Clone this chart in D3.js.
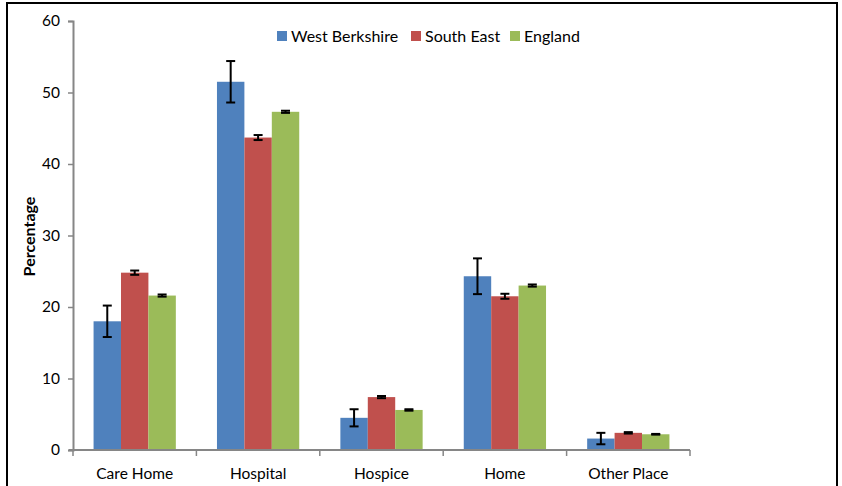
<!DOCTYPE html>
<html>
<head>
<meta charset="utf-8">
<script src="https://cdn.jsdelivr.net/npm/d3@7"></script>
<style>
  body { margin: 0; background: #fff; }
  svg { display: block; font-family: Lato, 'Open Sans', sans-serif; }
</style>
</head>
<body>
<svg id="chart" width="842" height="486"></svg>
<script>
const categories = ['Care Home', 'Hospital', 'Hospice', 'Home', 'Other Place'];
const seriesNames = ['West Berkshire', 'South East', 'England'];
const colors = ['#4F81BD', '#C0504D', '#9BBB59'];

// percentage of deaths by place, per series
const westBerkshire = [18.0, 51.5, 4.5, 24.3, 1.6];
const southEast = [24.8, 43.7, 7.4, 21.5, 2.4];
const england = [21.6, 47.3, 5.6, 23.0, 2.2];

// half-width of the error bars
const errWestBerkshire = [2.2, 2.9, 1.2, 2.5, 0.8];
const errSouthEast = [0.3, 0.35, 0.15, 0.35, 0.1];
const errEngland = [0.15, 0.15, 0.1, 0.15, 0.05];

const yTicks = [0, 10, 20, 30, 40, 50, 60];

const values = [westBerkshire, southEast, england];
const errors = [errWestBerkshire, errSouthEast, errEngland];

const svg = d3.select('#chart');

// outer frame
svg.append('rect')
  .attr('x', 7).attr('y', 3)
  .attr('width', 830).attr('height', 500)
  .attr('fill', 'none')
  .attr('stroke', '#000')
  .attr('stroke-width', 2);

const x0 = d3.scaleBand().domain(categories).range([73, 690]);
const x1 = d3.scaleBand().domain(seriesNames).range([0, x0.bandwidth()]).paddingOuter(0.75);
const y = d3.scaleLinear().domain([0, 60]).range([450, 21]);

// bars
const barData = [];
categories.forEach((c, i) => {
  seriesNames.forEach((s, j) => {
    barData.push({ cat: c, name: s, value: values[j][i], err: errors[j][i], color: colors[j] });
  });
});

svg.append('g').selectAll('rect')
  .data(barData)
  .join('rect')
  .attr('x', d => x0(d.cat) + x1(d.name))
  .attr('y', d => y(d.value))
  .attr('width', x1.bandwidth())
  .attr('height', d => y(0) - y(d.value))
  .attr('fill', d => d.color);

// error bars
const eb = svg.append('g').attr('stroke', '#000').attr('stroke-width', 2);
barData.forEach(d => {
  const cx = x0(d.cat) + x1(d.name) + x1.bandwidth() / 2;
  const top = y(d.value + d.err), bot = y(d.value - d.err);
  eb.append('line').attr('x1', cx).attr('x2', cx).attr('y1', top).attr('y2', bot);
  eb.append('line').attr('x1', cx - 4.5).attr('x2', cx + 4.5).attr('y1', top).attr('y2', top);
  eb.append('line').attr('x1', cx - 4.5).attr('x2', cx + 4.5).attr('y1', bot).attr('y2', bot);
});

// y axis
const yAxis = svg.append('g')
  .attr('transform', 'translate(73,0)')
  .call(d3.axisLeft(y).tickValues(yTicks).tickSize(5).tickPadding(8));
yAxis.select('.domain').attr('stroke', '#868686').attr('stroke-width', 2);
yAxis.selectAll('.tick line').attr('stroke', '#868686').attr('stroke-width', 1.5);
yAxis.selectAll('.tick text').attr('font-size', 15.5).attr('fill', '#000')
  .style('font-family', 'Lato, sans-serif');

// x axis
const xAxisG = svg.append('g').attr('transform', 'translate(0,450)');
xAxisG.append('line')
  .attr('x1', 69).attr('x2', 690)
  .attr('stroke', '#868686').attr('stroke-width', 2);
const bounds = categories.map(c => x0(c)).concat([x0.range()[1]]);
xAxisG.selectAll('line.tk')
  .data(bounds)
  .join('line')
  .attr('class', 'tk')
  .attr('x1', d => d).attr('x2', d => d)
  .attr('y1', 0).attr('y2', 6)
  .attr('stroke', '#868686').attr('stroke-width', 1.5);
xAxisG.selectAll('text')
  .data(categories)
  .join('text')
  .attr('x', d => x0(d) + x0.bandwidth() / 2)
  .attr('y', 29)
  .attr('text-anchor', 'middle')
  .attr('font-size', 15.5)
  .text(d => d);

// y axis title
svg.append('text')
  .attr('transform', 'translate(35,236.5) rotate(-90)')
  .attr('text-anchor', 'middle')
  .attr('font-size', 16)
  .attr('font-weight', 'bold')
  .text('Percentage');

// legend
const legendX = [277, 411, 510];
const legend = svg.append('g');
seriesNames.forEach((s, i) => {
  legend.append('rect')
    .attr('x', legendX[i]).attr('y', 31)
    .attr('width', 10).attr('height', 10)
    .attr('fill', colors[i]);
  legend.append('text')
    .attr('x', legendX[i] + 14).attr('y', 41.5)
    .attr('font-size', 16)
    .text(s);
});
</script>
</body>
</html>
